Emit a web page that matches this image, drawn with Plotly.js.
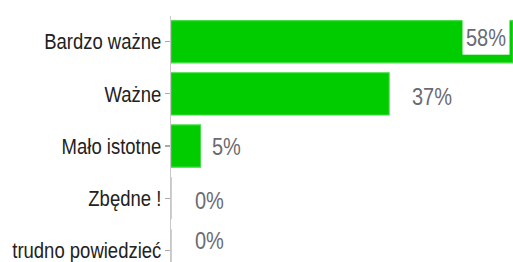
<!DOCTYPE html>
<html>
<head>
<meta charset="utf-8">
<script src="https://cdn.plot.ly/plotly-3.0.1.min.js"></script>
<style>
  html, body { margin: 0; padding: 0; background: #fff; overflow: hidden; width: 513px; height: 262px; }
  #wrap { width: 513px; height: 262px; overflow: hidden; }
  #chart { width: 513px; height: 230px; transform: scale(1, 1.2018); transform-origin: 0 0; }
</style>
</head>
<body>
<div id="wrap"><div id="chart"></div></div>
<script>
// Data
const categories = ["Bardzo ważne", "Ważne", "Mało istotne", "Zbędne !", "trudno powiedzieć"];
const percentValues = [58, 37, 5, 0, 0];
const percentLabels = ["58%", "37%", "5%", "0%", "0%"];

// Label placement tweaks (layout only, pixels)
const labelXShift = [-3, 21, 10, 22, 22];
const labelYShift = [4, -2, 0, -2, 8];

const trace = {
  type: "bar",
  orientation: "h",
  y: categories,
  x: percentValues,
  marker: { color: "#00cc00", line: { width: 1, color: "#44dd44" } },
  hoverinfo: "none"
};

const annotations = categories.map((c, i) => {
  const inside = i === 0;
  return {
    x: percentValues[i],
    y: c,
    xref: "x",
    yref: "y",
    text: percentLabels[i],
    showarrow: false,
    xanchor: inside ? "right" : "left",
    yanchor: "middle",
    xshift: labelXShift[i],
    yshift: labelYShift[i],
    font: { family: "Liberation Sans, Arial, sans-serif", size: 20, color: "#6a6a72" },
    bgcolor: inside ? "#ffffff" : "rgba(0,0,0,0)",
    borderpad: inside ? 3 : 1
  };
});

const layout = {
  width: 513,
  height: 230,
  margin: { l: 171, r: 0, t: 13, b: 0, pad: 0 },
  paper_bgcolor: "#ffffff",
  plot_bgcolor: "#ffffff",
  showlegend: false,
  bargap: 0.19,
  xaxis: {
    range: [0, 58],
    visible: false,
    fixedrange: true
  },
  yaxis: {
    type: "category",
    range: [4.5, -0.5],
    showline: true,
    linecolor: "#c8c8c8",
    linewidth: 1,
    ticks: "outside",
    ticklen: 5,
    tickcolor: "#aaaaaa",
    tickwidth: 1,
    showgrid: false,
    zeroline: false,
    automargin: false,
    tickfont: { family: "Liberation Sans, Arial, sans-serif", size: 18.5, color: "#222222" },
    fixedrange: true
  },
  annotations: annotations
};

Plotly.newPlot("chart", [trace], layout, { displayModeBar: false, staticPlot: true });
</script>
</body>
</html>
